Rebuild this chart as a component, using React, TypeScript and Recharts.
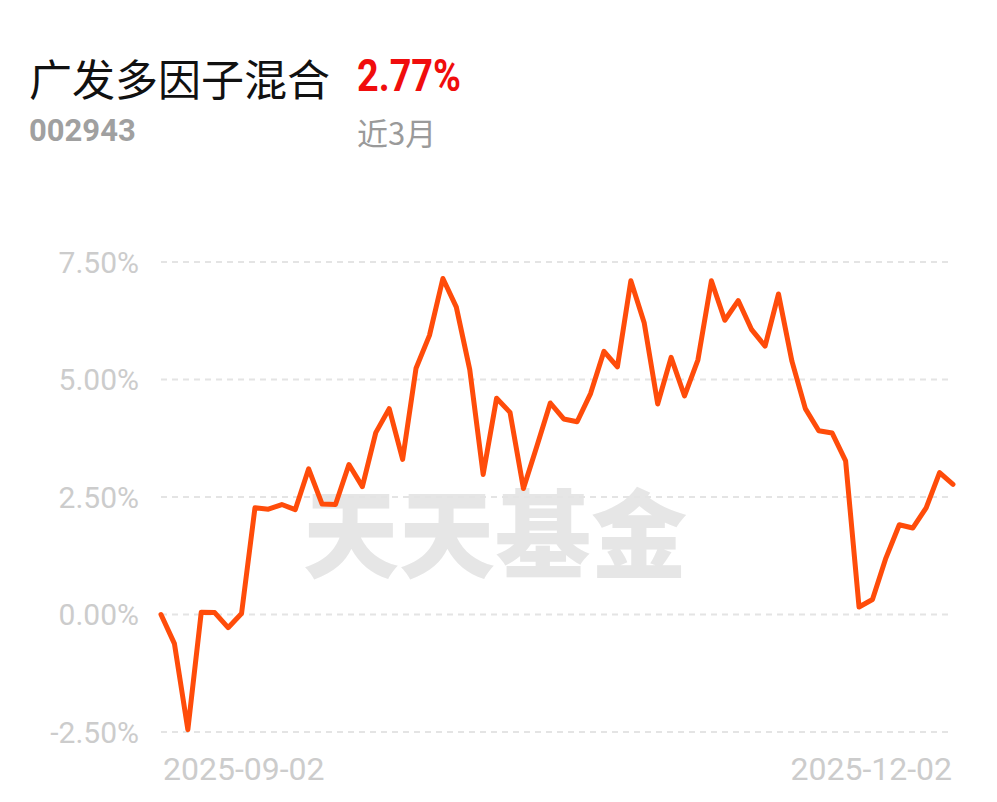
import { CartesianGrid, Line, LineChart, XAxis, YAxis } from "recharts";

const LINE = "#ff4c0a";
const GRID = "#e4e4e4";
const AXIS_TEXT = "#cccccc";

const FUND_NAME = "广发多因子混合";
const FUND_CODE = "002943";
const PERIOD = "近3月";
const PERIOD_RETURN = "2.77%";

const dates = [
  "2025-09-02", "2025-09-03", "2025-09-04", "2025-09-05", "2025-09-08", "2025-09-09",
  "2025-09-10", "2025-09-11", "2025-09-12", "2025-09-15", "2025-09-16", "2025-09-17",
  "2025-09-18", "2025-09-19", "2025-09-22", "2025-09-23", "2025-09-24", "2025-09-25",
  "2025-09-26", "2025-09-29", "2025-09-30", "2025-10-09", "2025-10-10", "2025-10-13",
  "2025-10-14", "2025-10-15", "2025-10-16", "2025-10-17", "2025-10-20", "2025-10-21",
  "2025-10-22", "2025-10-23", "2025-10-24", "2025-10-27", "2025-10-28", "2025-10-29",
  "2025-10-30", "2025-10-31", "2025-11-03", "2025-11-04", "2025-11-05", "2025-11-06",
  "2025-11-07", "2025-11-10", "2025-11-11", "2025-11-12", "2025-11-13", "2025-11-14",
  "2025-11-17", "2025-11-18", "2025-11-19", "2025-11-20", "2025-11-21", "2025-11-24",
  "2025-11-25", "2025-11-26", "2025-11-27", "2025-11-28", "2025-12-01", "2025-12-02",
];

// cumulative return, %
const returns = [
  0.0, -0.62, -2.45, 0.05, 0.04, -0.28, 0.02, 2.27, 2.24, 2.34,
  2.23, 3.1, 2.35, 2.34, 3.19, 2.72, 3.87, 4.38, 3.3, 5.24,
  5.94, 7.15, 6.54, 5.21, 2.98, 4.6, 4.3, 2.68, 3.58, 4.5,
  4.16, 4.1, 4.7, 5.6, 5.27, 7.1, 6.2, 4.48, 5.47, 4.65,
  5.42, 7.1, 6.26, 6.68, 6.06, 5.71, 6.82, 5.39, 4.38, 3.91,
  3.86, 3.27, 0.16, 0.32, 1.2, 1.91, 1.84, 2.27, 3.02, 2.77,
];

const yTicks = [-2.5, 0, 2.5, 5, 7.5];
const xTicks = [dates[0], dates[dates.length - 1]];

const data = dates.map((date, i) => ({ date, value: returns[i] }));

function DateTick(props: any) {
  const { x, y, payload } = props;
  const isFirst = payload.value === dates[0];
  return (
    <text
      x={isFirst ? x + 2 : x - 1}
      y={y}
      dy="0.71em"
      textAnchor={isFirst ? "start" : "end"}
      fill={AXIS_TEXT}
      fontSize={32}
      fontFamily="Roboto, sans-serif"
    >
      {payload.value}
    </text>
  );
}

export default function App() {
  return (
    <div
      style={{
        position: "absolute",
        left: 0,
        top: 0,
        width: 997,
        height: 802,
        background: "#fff",
        overflow: "hidden",
        fontFamily: "Roboto, 'Noto Sans CJK SC', sans-serif",
      }}
    >
      <div
        style={{
          position: "absolute",
          left: 29,
          top: 56,
          fontSize: 43,
          lineHeight: "43px",
          color: "#111",
          fontFamily: "'Noto Sans CJK SC', sans-serif",
          whiteSpace: "nowrap",
        }}
      >
        {FUND_NAME}
      </div>
      <div
        style={{
          position: "absolute",
          left: 357,
          top: 53,
          fontSize: 45,
          lineHeight: "45px",
          fontWeight: 700,
          color: "#f00d0d",
          transform: "scaleX(0.84)",
          transformOrigin: "left top",
          whiteSpace: "nowrap",
        }}
      >
        {PERIOD_RETURN}
      </div>
      <div
        style={{
          position: "absolute",
          left: 29,
          top: 115,
          fontSize: 31,
          lineHeight: "31px",
          fontWeight: 700,
          color: "#a0a0a0",
        }}
      >
        {FUND_CODE}
      </div>
      <div
        style={{
          position: "absolute",
          left: 357,
          top: 116,
          fontSize: 31,
          lineHeight: "31px",
          color: "#9a9a9a",
          fontFamily: "'Noto Sans CJK SC', sans-serif",
        }}
      >
        {PERIOD}
      </div>

      {/* watermark sits under the chart */}
      <div
        style={{
          position: "absolute",
          left: 303,
          top: 481,
          fontSize: 96,
          lineHeight: "96px",
          fontWeight: 900,
          color: "#e6e6e6",
          fontFamily: "'Noto Sans CJK SC', sans-serif",
          whiteSpace: "nowrap",
        }}
      >
        天天基金
      </div>

      <div style={{ position: "absolute", left: 0, top: 0 }}>
        <LineChart
          width={997}
          height={802}
          data={data}
          margin={{ top: 262, right: 44, left: 0, bottom: 0 }}
        >
          <CartesianGrid
            horizontal
            vertical={false}
            stroke={GRID}
            strokeWidth={2}
            strokeDasharray="6 5"
          />
          <XAxis
            dataKey="date"
            ticks={xTicks}
            interval={0}
            axisLine={false}
            tickLine={false}
            tickMargin={19}
            height={70}
            tick={<DateTick />}
          />
          <YAxis
            domain={[-2.5, 7.5]}
            ticks={yTicks}
            width={161}
            axisLine={false}
            tickLine={false}
            tickMargin={16}
            tickFormatter={(v) => `${Number(v).toFixed(2)}%`}
            tick={{ fill: AXIS_TEXT, fontSize: 30, fontFamily: "Roboto, sans-serif" }}
          />
          <Line
            type="linear"
            dataKey="value"
            stroke={LINE}
            strokeWidth={5}
            strokeLinejoin="round"
            strokeLinecap="round"
            dot={false}
            activeDot={false}
            isAnimationActive={false}
          />
        </LineChart>
      </div>
    </div>
  );
}
